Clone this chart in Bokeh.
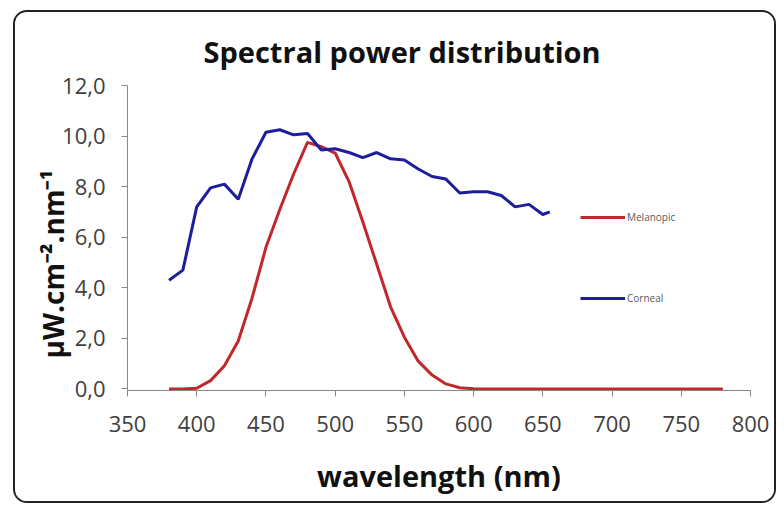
from bokeh.plotting import figure
from bokeh.models import Range1d, FixedTicker, Legend, LegendItem, Title
from bokeh.embed import file_html
from bokeh.resources import INLINE

# ---- data ----
wl_corneal = [380, 390, 400, 410, 420, 430, 440, 450, 460, 470, 480, 490, 500, 510,
              520, 530, 540, 550, 560, 570, 580, 590, 600, 610, 620, 630, 640, 650, 655]
corneal = [4.3, 4.7, 7.2, 7.95, 8.1, 7.5, 9.1, 10.15, 10.25, 10.05, 10.1, 9.45, 9.5, 9.35,
           9.15, 9.35, 9.1, 9.05, 8.7, 8.4, 8.3, 7.75, 7.8, 7.8, 7.65, 7.2, 7.3, 6.9, 7.0]

wl_melanopic = list(range(380, 790, 10))
melanopic = [0.0, 0.0, 0.03, 0.33, 0.92, 1.9, 3.6, 5.6, 7.1, 8.5, 9.75, 9.58, 9.33, 8.2,
             6.6, 4.93, 3.25, 2.05, 1.1, 0.55, 0.2, 0.05, 0.01] + [0.0] * 18

x_ticks = [350, 400, 450, 500, 550, 600, 650, 700, 750, 800]
y_ticks = [0, 2, 4, 6, 8, 10, 12]
y_tick_labels = ["0,0", "2,0", "4,0", "6,0", "8,0", "10,0", "12,0"]

title_text = "Spectral power distribution"
x_label = "wavelength (nm)"
y_label = "\u03bcW.cm\u207b\u00b2.nm\u207b\u00b9"

FONT = "Open Sans"

p = figure(width=763, height=493, output_backend="svg", toolbar_location=None,
           x_range=Range1d(350, 800), y_range=Range1d(-0.06, 12),
           min_border_left=112, min_border_right=28, min_border_top=73, min_border_bottom=115,
           background_fill_color="white", border_fill_color="white",
           styles={"border": "2px solid #222222", "border-radius": "14px",
                   "margin-left": "13px", "margin-top": "10px", "overflow": "hidden"})
p.outline_line_color = None
p.grid.visible = False

# title
p.title.text = title_text
p.title.text_font = FONT
p.title.text_font_size = "29px"
p.title.text_font_style = "bold"
p.title.text_color = "#111111"
p.title.align = "left"
p.title.offset = 76
p.title.standoff = 30

for ax in (p.xaxis[0], p.yaxis[0]):
    ax.axis_line_color = "#888888"
    ax.major_tick_line_color = "#888888"
    ax.minor_tick_line_color = None
    ax.major_tick_in = 0
    ax.major_tick_out = 6
    ax.major_label_text_font = FONT
    ax.major_label_text_font_size = "22px"
    ax.major_label_text_color = "#404040"

p.xaxis.ticker = FixedTicker(ticks=x_ticks)
p.xaxis.major_label_standoff = 19
p.xaxis.axis_label = x_label
p.xaxis.axis_label_text_font = FONT
p.xaxis.axis_label_text_font_size = "29px"
p.xaxis.axis_label_text_font_style = "bold"
p.xaxis.axis_label_text_color = "#111111"
p.xaxis.axis_label_standoff = 21

p.yaxis.ticker = FixedTicker(ticks=y_ticks)
p.yaxis.major_label_overrides = {t: s for t, s in zip(y_ticks, y_tick_labels)}
p.yaxis.major_label_standoff = 16

# y-axis label as a side title (allows shifting along the axis)
ytitle = Title(text=y_label, align="left", offset=32, standoff=-25,
               text_font=FONT, text_font_size="28px", text_font_style="bold",
               text_color="#111111")
p.add_layout(ytitle, "left")

r_mel = p.line(wl_melanopic, melanopic, line_color="#C0282C", line_width=3)
r_cor = p.line(wl_corneal, corneal, line_color="#1E1E9C", line_width=3)

legend = Legend(items=[LegendItem(label="Melanopic", renderers=[r_mel]),
                       LegendItem(label="Corneal", renderers=[r_cor])],
                location=(453, 84), orientation="vertical",
                glyph_width=45, glyph_height=16, label_height=16,
                label_text_font=FONT, label_text_font_size="10px",
                label_text_color="#595959", label_standoff=2,
                spacing=65, padding=0, margin=0,
                background_fill_alpha=0, border_line_color=None)
p.add_layout(legend, "center")

open("out.html", "w").write(file_html(p, INLINE))
